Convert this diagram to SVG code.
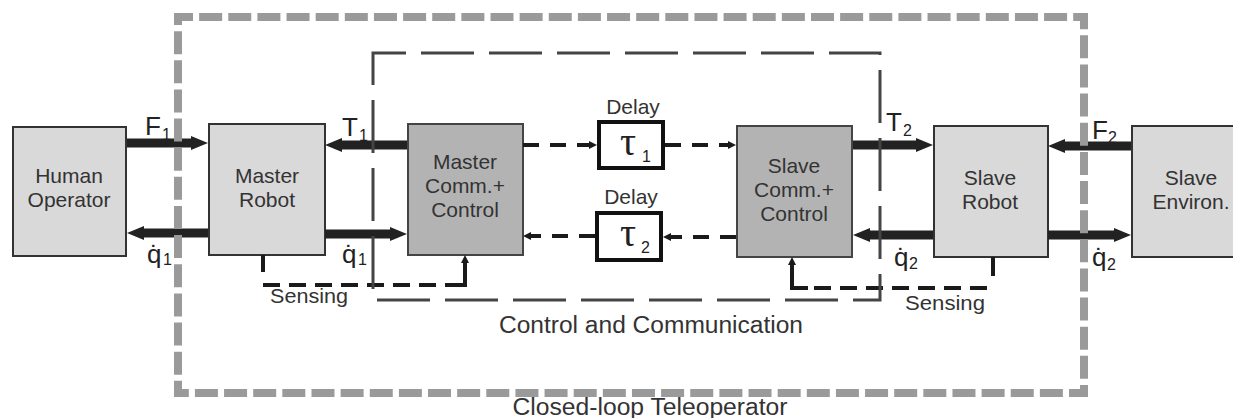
<svg xmlns="http://www.w3.org/2000/svg" width="1233" height="418" viewBox="0 0 1233 418">
<style>
text{font-family:"Liberation Sans",Arial,sans-serif;fill:#333}
.lbl{font-size:21px;text-anchor:middle}
.sym{font-size:26px;fill:#222}
.sub{font-size:16px;fill:#222}
.tau{font-family:"Liberation Serif","Times New Roman",serif;font-size:40px;fill:#222}
.light{fill:#d9d9d9;stroke:#333;stroke-width:2}
.dark{fill:#b3b3b3;stroke:#444;stroke-width:2}
.delay{fill:#fff;stroke:#111;stroke-width:4}
.thick{stroke:#222;stroke-width:9;fill:none;marker-end:url(#ah)}
.dsh{stroke:#1a1a1a;stroke-width:4;fill:none;stroke-dasharray:16 11;marker-end:url(#sa)}
.sens{stroke:#1a1a1a;stroke-width:4;fill:none;stroke-dasharray:17 9}
.solid{stroke:#1a1a1a;stroke-width:4;fill:none}
</style>
<defs>
<marker id="ah" markerUnits="userSpaceOnUse" viewBox="0 -7 17 14" markerWidth="17" markerHeight="14" refX="2" refY="0" orient="auto"><path d="M0,-7 L17,0 L0,7 z" fill="#222"/></marker>
<marker id="sa" markerUnits="userSpaceOnUse" viewBox="0 -4 8 8" markerWidth="8" markerHeight="8" refX="1" refY="0" orient="auto"><path d="M0,-4 L8,0 L0,4 z" fill="#1a1a1a"/></marker>
</defs>
<rect width="1233" height="418" fill="#fff"/>

<g id="human"><rect class="light" x="13" y="127" width="113" height="129"/><text class="lbl" x="69" y="183">Human</text><text class="lbl" x="69" y="207">Operator</text></g>
<g id="master-robot"><rect class="light" x="209" y="124" width="116" height="131"/><text class="lbl" x="267" y="183">Master</text><text class="lbl" x="267" y="207">Robot</text></g>
<g id="master-comm"><rect class="dark" x="408" y="124" width="115" height="131"/><text class="lbl" x="465" y="169">Master</text><text class="lbl" x="465" y="193">Comm.+</text><text class="lbl" x="465" y="217">Control</text></g>
<g id="delay1"><text class="lbl" x="633" y="114">Delay</text><rect class="delay" x="599" y="122" width="64" height="46"/><text class="tau" x="620" y="155">τ</text><text class="sub" x="642" y="162">1</text></g>
<g id="delay2"><text class="lbl" x="631" y="204">Delay</text><rect class="delay" x="597" y="213" width="64" height="47"/><text class="tau" x="620" y="246">τ</text><text class="sub" x="641" y="253">2</text></g>
<g id="slave-comm"><rect class="dark" x="737" y="126" width="115" height="131"/><text class="lbl" x="794" y="173">Slave</text><text class="lbl" x="794" y="197">Comm.+</text><text class="lbl" x="794" y="221">Control</text></g>
<g id="slave-robot"><rect class="light" x="934" y="126" width="114" height="131"/><text class="lbl" x="990" y="185">Slave</text><text class="lbl" x="990" y="209">Robot</text></g>
<g id="slave-env"><rect class="light" x="1132" y="126" width="120" height="131"/><text class="lbl" x="1191" y="185">Slave</text><text class="lbl" x="1191" y="209">Environ.</text></g>

<g id="connectors">
<path class="thick" d="M127,143 H193"/>
<path class="thick" d="M407,145 H340"/>
<path class="thick" d="M208,233 H142"/>
<path class="thick" d="M325,234 H392"/>
<path class="thick" d="M853,145 H918"/>
<path class="thick" d="M933,235 H868"/>
<path class="thick" d="M1131,146 H1063"/>
<path class="thick" d="M1048,235 H1116"/>
<path class="dsh" d="M523,145 H590"/>
<path class="dsh" d="M665,145 H729"/>
<path class="dsh" d="M736,237 H670"/>
<path class="dsh" d="M595,236 H530"/>
<path class="solid" d="M263,255 V272"/>
<path class="sens" d="M263,285 H458"/>
<path class="solid" d="M456,285 H465 V262" style="marker-end:url(#sa)"/>
<path class="solid" d="M993,257 V276"/>
<path class="sens" d="M987,288 H812"/>
<path class="solid" d="M808,288 H792 V264" style="marker-end:url(#sa)"/>
</g>

<g id="labels">
<text class="sym" x="145" y="135">F</text><text class="sub" x="162" y="140">1</text>
<text class="sym" x="342" y="136">T</text><text class="sub" x="359" y="141">1</text>
<text class="sym" x="886" y="131">T</text><text class="sub" x="903" y="136">2</text>
<text class="sym" x="1092" y="139">F</text><text class="sub" x="1108" y="143">2</text>
<text class="sym" x="147" y="263">q̇</text><text class="sub" x="163" y="265">1</text>
<text class="sym" x="342" y="263">q̇</text><text class="sub" x="358" y="265">1</text>
<text class="sym" x="894" y="266">q̇</text><text class="sub" x="909" y="269">2</text>
<text class="sym" x="1092" y="266">q̇</text><text class="sub" x="1107" y="270">2</text>
<text x="309" y="303" style="font-size:20px" text-anchor="middle" textLength="78" lengthAdjust="spacingAndGlyphs">Sensing</text>
<text x="945" y="310" style="font-size:20px" text-anchor="middle" textLength="80" lengthAdjust="spacingAndGlyphs">Sensing</text>
<text x="651" y="333" style="font-size:23px" text-anchor="middle" textLength="304" lengthAdjust="spacingAndGlyphs">Control and Communication</text>
<text x="650" y="415" style="font-size:23px" text-anchor="middle" textLength="275" lengthAdjust="spacingAndGlyphs">Closed-loop Teleoperator</text>
</g>

<g id="control-comm-boundary"><path d="M373,73 V53 H880 V300 H373 Z" fill="none" stroke="#444" stroke-width="3" stroke-dasharray="53 15"/></g>
<g id="teleoperator-boundary"><rect x="178" y="17" width="906" height="376" fill="none" stroke="#9a9a9a" stroke-width="8" stroke-dasharray="23 6.136" stroke-dashoffset="8"/></g>
</svg>
